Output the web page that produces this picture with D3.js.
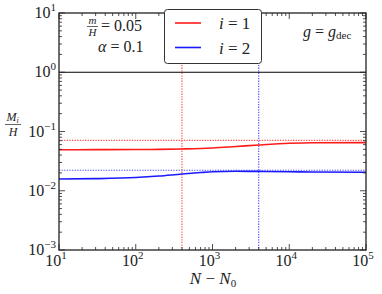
<!DOCTYPE html>
<html><head><meta charset="utf-8">
<script src="https://cdn.jsdelivr.net/npm/d3@7"></script>
</head><body style="margin:0">
<svg id="s" width="382" height="294"></svg>
<script>
const xTicks = [1e1, 1e2, 1e3, 1e4, 1e5];
const xTickExp = ["1", "2", "3", "4", "5"];
const yTicks = [1e1, 1e0, 1e-1, 1e-2, 1e-3];
const yTickExp = ["1", "0", "\u22121", "\u22122", "\u22123"];
const nValues = [10, 30, 100, 200, 400, 700, 1000, 2000, 4000, 10000, 20000, 100000];
const mass1 = [0.0493, 0.0494, 0.0496, 0.0500, 0.0507, 0.0516, 0.0527, 0.0558, 0.0592, 0.0632, 0.0647, 0.0650];
const mass2 = [0.0158, 0.0160, 0.0167, 0.0177, 0.0192, 0.0203, 0.0209, 0.0213, 0.0212, 0.0209, 0.0207, 0.0205];
const refLevel1 = 0.0707, refLevel2 = 0.0222;
const vLine1 = 400, vLine2 = 4000;
const unityLevel = 1;

const L = 59, R = 366, T = 13, B = 250;
const svg = d3.select("#s");
const x = d3.scaleLog().domain([10, 1e5]).range([L, R]);
const y = d3.scaleLog().domain([1e-3, 10]).range([B, T]);
const red = "#ff1a1a", blue = "#1a1aff";
function txt(g, xx, yy, size) {
  return g.append("text").attr("x", xx).attr("y", yy).attr("font-family", "Liberation Serif").attr("font-size", size).attr("fill", "#222");
}

const plot = svg.append("g");
plot.append("line").attr("x1", L).attr("x2", R).attr("y1", y(unityLevel)).attr("y2", y(unityLevel))
  .attr("stroke", "#000").attr("stroke-width", 1);
const dots = "1.3,1.3";
plot.append("line").attr("x1", L).attr("x2", R).attr("y1", y(refLevel1)).attr("y2", y(refLevel1))
  .attr("stroke", red).attr("stroke-width", 1.2).attr("stroke-dasharray", dots).attr("opacity", 0.75);
plot.append("line").attr("x1", L).attr("x2", R).attr("y1", y(refLevel2)).attr("y2", y(refLevel2))
  .attr("stroke", blue).attr("stroke-width", 1.2).attr("stroke-dasharray", dots).attr("opacity", 0.75);
plot.append("line").attr("x1", x(vLine1)).attr("x2", x(vLine1)).attr("y1", T).attr("y2", B)
  .attr("stroke", red).attr("stroke-width", 1.2).attr("stroke-dasharray", dots).attr("opacity", 0.75);
plot.append("line").attr("x1", x(vLine2)).attr("x2", x(vLine2)).attr("y1", T).attr("y2", B)
  .attr("stroke", blue).attr("stroke-width", 1.2).attr("stroke-dasharray", dots).attr("opacity", 0.75);

const line = d3.line().x(d => x(d[0])).y(d => y(d[1])).curve(d3.curveMonotoneX);
plot.append("path").attr("d", line(nValues.map((n, i) => [n, mass1[i]])))
  .attr("fill", "none").attr("stroke", red).attr("stroke-width", 1.6);
plot.append("path").attr("d", line(nValues.map((n, i) => [n, mass2[i]])))
  .attr("fill", "none").attr("stroke", blue).attr("stroke-width", 1.6);

function minorTicks(scale) {
  const [a, b] = scale.domain(); const out = [];
  for (let e = Math.floor(Math.log10(a)); e < Math.ceil(Math.log10(b)); e++)
    for (let k = 2; k <= 9; k++) { const v = k * Math.pow(10, e); if (v > a && v < b) out.push(v); }
  return out;
}
const axG = svg.append("g").attr("stroke", "#222").attr("stroke-width", 0.8);
const xMin = minorTicks(x), yMin = minorTicks(y);
xTicks.forEach(v => { axG.append("line").attr("x1", x(v)).attr("x2", x(v)).attr("y1", B).attr("y2", B - 6);
  axG.append("line").attr("x1", x(v)).attr("x2", x(v)).attr("y1", T).attr("y2", T + 6); });
xMin.forEach(v => { axG.append("line").attr("x1", x(v)).attr("x2", x(v)).attr("y1", B).attr("y2", B - 3);
  axG.append("line").attr("x1", x(v)).attr("x2", x(v)).attr("y1", T).attr("y2", T + 3); });
yTicks.forEach(v => { axG.append("line").attr("y1", y(v)).attr("y2", y(v)).attr("x1", L).attr("x2", L + 6);
  axG.append("line").attr("y1", y(v)).attr("y2", y(v)).attr("x1", R).attr("x2", R - 6); });
yMin.forEach(v => { axG.append("line").attr("y1", y(v)).attr("y2", y(v)).attr("x1", L).attr("x2", L + 3);
  axG.append("line").attr("y1", y(v)).attr("y2", y(v)).attr("x1", R).attr("x2", R - 3); });
svg.append("rect").attr("x", L).attr("y", T).attr("width", R - L).attr("height", B - T)
  .attr("fill", "none").attr("stroke", "#222").attr("stroke-width", 1.3);

xTicks.forEach((v, i) => {
  const t = txt(svg, x(v) - 3, 266, 16).attr("text-anchor", "middle");
  t.append("tspan").text("10");
  t.append("tspan").attr("dy", -7).attr("font-size", 11).text(xTickExp[i]);
});
yTicks.forEach((v, i) => {
  const t = txt(svg, 56, y(v) + 5, 16).attr("text-anchor", "end");
  t.append("tspan").text("10");
  t.append("tspan").attr("dy", -7).attr("font-size", 11).text(yTickExp[i]);
});

const xl = txt(svg, 213, 284, 17).attr("text-anchor", "middle");
xl.append("tspan").attr("font-style", "italic").text("N");
xl.append("tspan").text(" \u2212 ");
xl.append("tspan").attr("font-style", "italic").text("N");
xl.append("tspan").attr("dy", 3).attr("font-size", 11).text("0");

const ym = txt(svg, 12.5, 121, 12).attr("text-anchor", "middle").attr("font-style", "italic");
ym.append("tspan").text("M");
ym.append("tspan").attr("font-size", 8).attr("dy", 2).text("i");
svg.append("line").attr("x1", 5).attr("x2", 21).attr("y1", 124.5).attr("y2", 124.5).attr("stroke", "#222").attr("stroke-width", 0.7);
txt(svg, 13, 136, 12).attr("text-anchor", "middle").attr("font-style", "italic").text("H");

txt(svg, 92.5, 24, 11).attr("text-anchor", "middle").attr("font-style", "italic").text("m");
svg.append("line").attr("x1", 87).attr("x2", 98).attr("y1", 26.5).attr("y2", 26.5).attr("stroke", "#222").attr("stroke-width", 0.7);
txt(svg, 92.5, 35.5, 11).attr("text-anchor", "middle").attr("font-style", "italic").text("H");
txt(svg, 101, 31, 16).text("= 0.05");
const al = txt(svg, 98, 52, 16);
al.append("tspan").attr("font-style", "italic").text("\u03b1");
al.append("tspan").text(" = 0.1");
const gl = txt(svg, 303, 37, 16);
gl.append("tspan").attr("font-style", "italic").text("g");
gl.append("tspan").text(" = ");
gl.append("tspan").attr("font-style", "italic").text("g");
gl.append("tspan").attr("font-size", 11).attr("dy", 2).text("dec");

const lg = svg.append("g");
lg.append("rect").attr("x", 164.5).attr("y", 9.5).attr("width", 97).attr("height", 54).attr("rx", 3)
  .attr("fill", "#fff").attr("stroke", "#333").attr("stroke-width", 1);
const legItems = [{c: red, lab: "1", yy: 23}, {c: blue, lab: "2", yy: 47.5}];
legItems.forEach(d => {
  lg.append("line").attr("x1", 175).attr("x2", 201).attr("y1", d.yy).attr("y2", d.yy).attr("stroke", d.c).attr("stroke-width", 1.6);
  const t = txt(lg, 219, d.yy + 6, 17);
  t.append("tspan").attr("font-style", "italic").text("i");
  t.append("tspan").text(" = " + d.lab);
});
</script></body></html>
